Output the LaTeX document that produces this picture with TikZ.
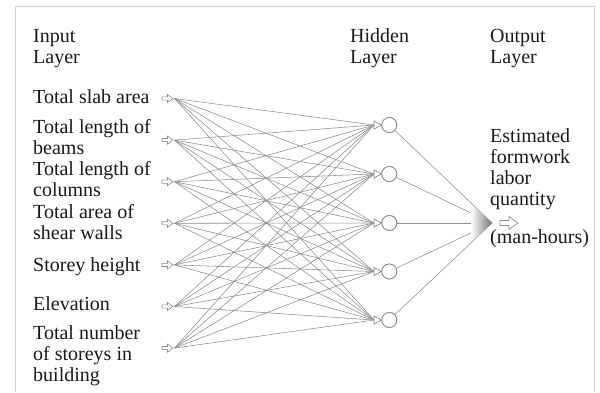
\documentclass[tikz,border=0pt]{standalone}
\usepackage{fontspec}
\setmainfont{Liberation Serif}
\usetikzlibrary{calc}
\begin{document}
\begin{tikzpicture}[x=1pt,y=-1pt,
  lbl/.style={anchor=base west,inner sep=0pt,align=left,text=black!90,
    font=\fontsize{20}{21}\selectfont},
  conn/.style={draw=black!45,line width=0.55pt},
  neuron/.style={circle,draw=black!50,fill=white,line width=0.7pt,
    minimum size=15pt,inner sep=0pt},
  frame/.style={draw=black!18,line width=1.6pt},
  inarrow/.style={draw=black!45,line width=0.6pt,fill=white,line join=miter}]
\useasboundingbox (0,0) rectangle (600,392);

% open frame around the figure
\draw[frame] (15.5,392) -- (15.5,6.5) -- (594.5,6.5) -- (594.5,392);

% layer titles (anchored on the baseline of their last line)
\node[lbl] (tin)  at (33,63)  {Input\\Layer};
\node[lbl] (thid) at (350,63) {Hidden\\Layer};
\node[lbl] (tout) at (490,63) {Output\\Layer};

% input labels
\node[lbl] (l1) at (33,103.5) {Total slab area};
\node[lbl] (l2) at (33,154)   {Total length of\\beams};
\node[lbl] (l3) at (33,196.5) {Total length of\\columns};
\node[lbl] (l4) at (33,239.5) {Total area of\\shear walls};
\node[lbl] (l5) at (33,271.5) {Storey height};
\node[lbl] (l6) at (33,310.5) {Elevation};
\node[lbl] (l7) at (33,381.5) {Total number\\of storeys in\\building};

% input fan points and their small open arrows
\foreach \i/\y in {1/98.5,2/140.1,3/181.7,4/223.3,5/264.9,6/306.5,7/348.1}{
  \coordinate (i\i) at (174.5,\y);
  \draw[inarrow] (162,\y-1.6) -- (167.5,\y-1.6) -- (167.5,\y-4)
     -- (173,\y) -- (167.5,\y+4) -- (167.5,\y+1.6) -- (162,\y+1.6) -- cycle;
}

% hidden neurons and the points where their inputs converge
\foreach \j/\y in {1/125,2/174,3/223,4/271.5,5/320}{
  \coordinate (c\j) at (374,\y);
  \node[neuron] (h\j) at (389.3,\y) {};
}

% input-to-hidden connections
\foreach \i in {1,...,7}{
  \foreach \j in {1,...,5}{
    \draw[conn] (i\i) -- (c\j);
  }
}

% small open arrowheads in front of each hidden neuron
\foreach \j in {1,...,5}{
  \draw[draw=black!50,line width=0.6pt,fill=white]
    ($(c\j)+(0,-4)$) -- ($(c\j)+(7.5,0)$) -- ($(c\j)+(0,4)$) -- cycle;
  \node[neuron] at (h\j) {};
}

% output summing point
\coordinate (o) at (492,223);
\foreach \j in {1,...,5}{
  \draw[conn] (h\j) -- (o);
}
\shade[left color=white,right color=black!55]
  (471,204) -- (o) -- (471,242) -- cycle;

% output text and arrow
\node[lbl] (est) at (490,205.5) {Estimated\\formwork\\labor\\quantity};
\draw[inarrow,line width=0.7pt] (500,220.5) -- (509,220.5) -- (509,216.5)
   -- (518,223) -- (509,229.5) -- (509,225.5) -- (500,225.5) -- cycle;
\node[lbl] (mh) at (490,243.5) {(man-hours)};
\end{tikzpicture}
\end{document}
